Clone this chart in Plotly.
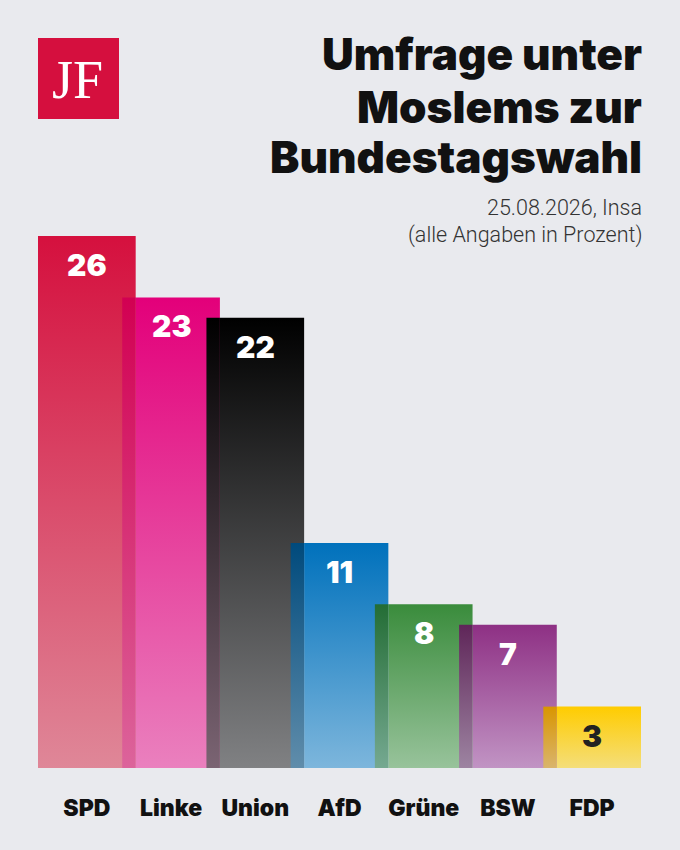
import plotly.graph_objects as go

# poll data
parties = ["SPD", "Linke", "Union", "AfD", "Grüne", "BSW", "FDP"]
values = [26, 23, 22, 11, 8, 7, 3]
top_colors = [(213, 16, 62), (227, 0, 122), (0, 0, 0), (0, 113, 188),
              (58, 140, 60), (142, 48, 132), (255, 204, 0)]
bottom_colors = [(223, 135, 152), (234, 128, 190), (128, 129, 131), (125, 182, 220),
                 (152, 195, 155), (193, 148, 196), (244, 222, 122)]
label_colors = ["white", "white", "white", "white", "white", "white", "#222222"]

title_lines = ["Umfrage unter", "Moslems zur", "Bundestagswahl"]
sub_lines = ["25.08.2026, Insa", "(alle Angaben in Prozent)"]

BG = "#e9eaee"
W, H = 680, 850
ML, MR, MT, MB = 38, 39, 236, 82
BAR_W = 1.16           # bars are wider than their spacing -> overlap
OVL = BAR_W - 1.0      # width of the overlapping strip
HEAVY = "Inter"


def rgb(c):
    return "rgb(%d,%d,%d)" % c


def soft_multiply(c, under, k=0.45):
    return tuple(int(a * (1 - k + k * b / 255)) for a, b in zip(c, under))


def mix(c1, c2, t):
    return tuple(int(a + (b - a) * t) for a, b in zip(c1, c2))


def px(x):
    return (x - ML) / (W - ML - MR)


def py(y):
    return (H - MB - y) / (H - MB - MT)


fig = go.Figure()

for i, (v, ct, cb) in enumerate(zip(values, top_colors, bottom_colors)):
    left = i - BAR_W / 2
    right = i + BAR_W / 2
    body_left = left if i == 0 else left + OVL
    fig.add_trace(go.Scatter(
        x=[body_left, right, right, body_left, body_left],
        y=[0, 0, v, v, 0],
        mode="lines", line=dict(width=0), fill="toself",
        fillgradient=dict(type="vertical", start=0, stop=v,
                          colorscale=[[0, rgb(cb)], [1, rgb(ct)]]),
        hoverinfo="skip", showlegend=False,
    ))
    if i > 0:
        # colour of the previous bar behind the strip
        pv = values[i - 1]
        prev_top = mix(bottom_colors[i - 1], top_colors[i - 1], v / pv)
        prev_bot = bottom_colors[i - 1]
        fig.add_trace(go.Scatter(
            x=[left, left + OVL, left + OVL, left, left],
            y=[0, 0, v, v, 0],
            mode="lines", line=dict(width=0), fill="toself",
            fillgradient=dict(type="vertical", start=0, stop=v,
                              colorscale=[[0, rgb(soft_multiply(cb, prev_bot))],
                                          [1, rgb(soft_multiply(ct, prev_top))]]),
            hoverinfo="skip", showlegend=False,
        ))
    fig.add_annotation(x=i, y=v, yshift=-29, text=str(v), showarrow=False,
                       yanchor="middle",
                       font=dict(family=HEAVY, size=30, weight=900, color=label_colors[i]))

# title block
for k, (line, yc) in enumerate(zip(title_lines, [54, 107, 157])):
    fig.add_annotation(xref="paper", yref="paper", x=px(644), y=py(yc),
                       xanchor="right", yanchor="middle", text=line, showarrow=False,
                       font=dict(family=HEAVY, size=44, weight=900, color="#111111"))
for k, (line, yc) in enumerate(zip(sub_lines, [207, 235])):
    fig.add_annotation(xref="paper", yref="paper", x=px(644), y=py(yc),
                       xanchor="right", yanchor="middle", text=line, showarrow=False,
                       font=dict(family="Roboto", size=21.5, weight=300, color="#333333"))

# JF logo
fig.add_shape(type="rect", xref="paper", yref="paper",
              x0=px(38), x1=px(119), y0=py(119), y1=py(38),
              fillcolor="#d50f3e", line=dict(width=0), layer="above")
fig.add_annotation(xref="paper", yref="paper", x=px(77), y=py(80),
                   text="JF", showarrow=False, xanchor="center", yanchor="middle",
                   font=dict(family="Liberation Serif", size=54, color="white"))

fig.update_layout(
    width=W, height=H,
    margin=dict(l=ML, r=MR, t=MT, b=MB),
    paper_bgcolor=BG, plot_bgcolor=BG,
    xaxis=dict(range=[-BAR_W / 2, len(values) - 1 + BAR_W / 2],
               tickvals=list(range(len(parties))), ticktext=parties,
               tickfont=dict(family=HEAVY, size=23, weight=900, color="#111111"),
               ticks="", showgrid=False, zeroline=False, showline=False,
               ticklabelstandoff=24, fixedrange=True),
    yaxis=dict(range=[0, 26], visible=False, fixedrange=True),
)

fig.write_html("out.html", config={"displayModeBar": False},
               post_script="document.body.style.margin='0';")
